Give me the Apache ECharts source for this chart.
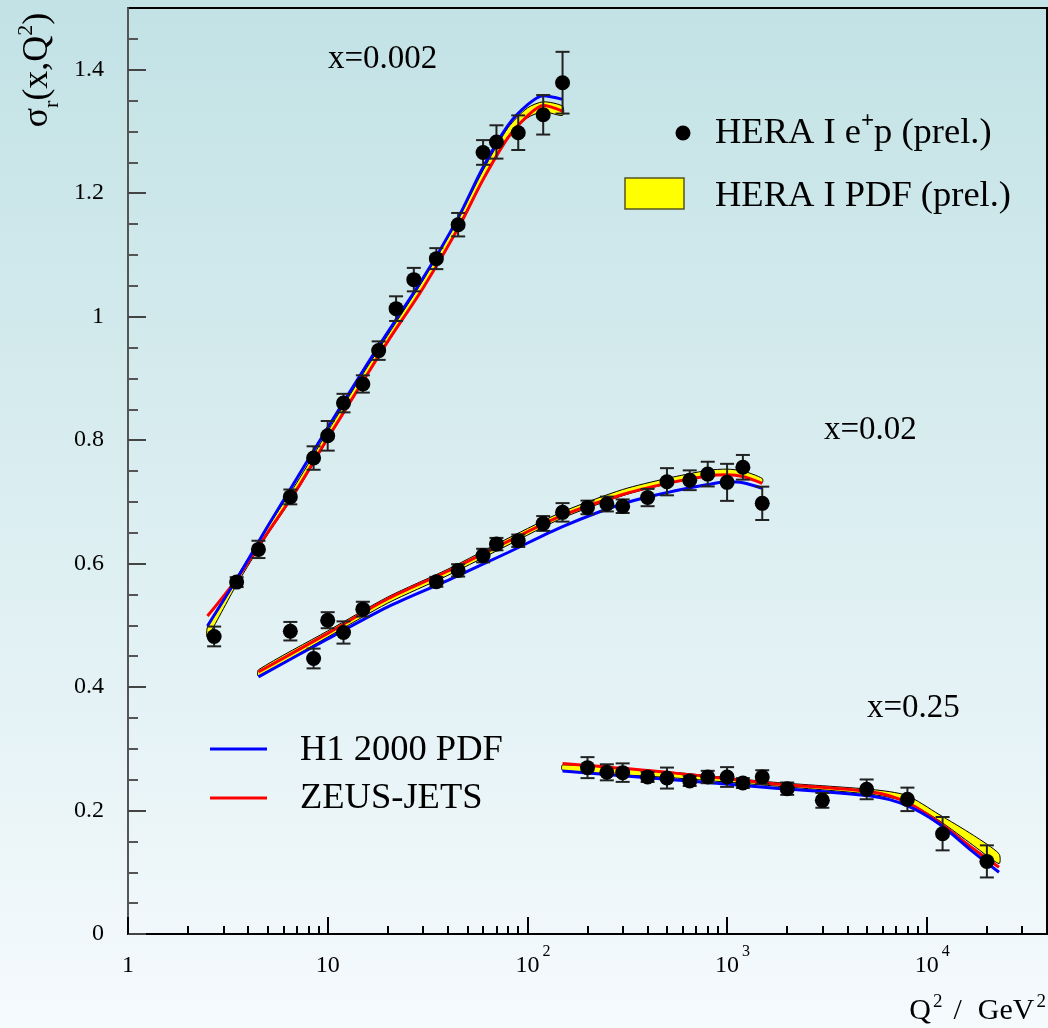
<!DOCTYPE html>
<html><head><meta charset="utf-8">
<script src="https://cdn.jsdelivr.net/npm/echarts@6/dist/echarts.min.js"></script>
<style>html,body{margin:0;padding:0;background:#fff}#c{width:1048px;height:1028px}</style>
</head><body><div id="c"></div>
<script>
const FONT = '"Liberation Serif", "Times New Roman", serif';

// ---- data: x = 0.002 ----
const q2_a  = [2.7, 3.5, 4.5, 6.5, 8.5, 10, 12, 15, 18, 22, 27, 35, 45, 60, 70, 90, 120, 150];
const sig_a = [0.482, 0.570, 0.623, 0.708, 0.771, 0.807, 0.860, 0.891, 0.945, 1.013, 1.060, 1.094, 1.149, 1.266, 1.283, 1.298, 1.327, 1.379];
const err_a = [0.016, 0.008, 0.014, 0.012, 0.019, 0.024, 0.015, 0.014, 0.015, 0.020, 0.019, 0.017, 0.019, 0.020, 0.027, 0.028, 0.032, 0.050];

// ---- data: x = 0.02 ----
const q2_b  = [6.5, 8.5, 10, 12, 15, 35, 45, 60, 70, 90, 120, 150, 200, 250, 300, 400, 500, 650, 800, 1000, 1200, 1500];
const sig_b = [0.4905, 0.4463, 0.5083, 0.4884, 0.5262, 0.5705, 0.589, 0.613, 0.6316, 0.637, 0.665, 0.683, 0.691, 0.6965, 0.693, 0.707, 0.7326, 0.735, 0.745, 0.7316, 0.756, 0.6976];
const err_b = [0.015, 0.016, 0.013, 0.018, 0.012, 0.008, 0.010, 0.011, 0.010, 0.010, 0.012, 0.015, 0.011, 0.012, 0.011, 0.014, 0.022, 0.016, 0.020, 0.030, 0.020, 0.027];

// ---- data: x = 0.25 ----
const q2_c  = [200, 250, 300, 400, 500, 650, 800, 1000, 1200, 1500, 2000, 3000, 5000, 8000, 12000, 20000];
const sig_c = [0.2695, 0.2619, 0.2614, 0.2543, 0.2526, 0.2478, 0.2543, 0.2543, 0.2445, 0.2543, 0.2354, 0.2165, 0.2343, 0.2181, 0.1625, 0.1176];
const err_c = [0.017, 0.013, 0.015, 0.008, 0.017, 0.008, 0.010, 0.016, 0.008, 0.011, 0.010, 0.012, 0.016, 0.019, 0.027, 0.026];

// ---- curves: x = 0.002 ----
const curve_a_q = [2.5, 3.5, 5, 7, 10, 15, 20, 30, 45, 60, 80, 100, 120, 150];
const h1_a_v    = [0.499, 0.575, 0.660, 0.738, 0.820, 0.912, 0.975, 1.062, 1.160, 1.242, 1.310, 1.343, 1.358, 1.352];
const zeus_a_v  = [0.515, 0.575, 0.650, 0.720, 0.803, 0.895, 0.960, 1.046, 1.143, 1.222, 1.290, 1.325, 1.342, 1.333];
const band_a_lo = [0.481, 0.566, 0.647, 0.717, 0.801, 0.895, 0.958, 1.046, 1.146, 1.224, 1.292, 1.322, 1.332, 1.326];
const band_a_hi = [0.497, 0.578, 0.659, 0.731, 0.814, 0.907, 0.970, 1.059, 1.158, 1.237, 1.306, 1.338, 1.348, 1.341];

// ---- curves: x = 0.02 ----
const curve_b_q = [4.5, 10, 20, 40, 80, 150, 300, 500, 800, 1000, 1200, 1500];
const h1_b_v    = [0.4165, 0.478, 0.530, 0.573, 0.618, 0.660, 0.697, 0.715, 0.728, 0.7325, 0.731, 0.722];
const zeus_b_v  = [0.4245, 0.487, 0.543, 0.588, 0.636, 0.678, 0.712, 0.730, 0.742, 0.744, 0.741, 0.730];
const band_b_lo = [0.418, 0.481, 0.536, 0.581, 0.630, 0.674, 0.710, 0.729, 0.742, 0.744, 0.741, 0.731];
const band_b_hi = [0.428, 0.491, 0.546, 0.591, 0.641, 0.684, 0.720, 0.738, 0.751, 0.753, 0.750, 0.738];

// ---- curves: x = 0.25 ----
const curve_c_q = [150, 535, 1690, 5330, 7900, 11500, 17100, 23000];
const h1_c_v    = [0.264, 0.250, 0.2365, 0.223, 0.2084, 0.1787, 0.1327, 0.100];
const zeus_c_v  = [0.276, 0.261, 0.2435, 0.230, 0.2137, 0.181, 0.138, 0.108];
const band_c_lo = [0.265, 0.253, 0.240, 0.226, 0.214, 0.184, 0.1435, 0.114];
const band_c_hi = [0.274, 0.262, 0.246, 0.234, 0.2246, 0.1938, 0.160, 0.130];

// ---- axis ticks ----
const xMajor = [1, 10, 100, 1000, 10000];
const xMinor = [2,3,4,5,6,7,8,9, 20,30,40,50,60,70,80,90, 200,300,400,500,600,700,800,900,
                2000,3000,4000,5000,6000,7000,8000,9000, 20000,30000];
const yMajor = [0, 0.2, 0.4, 0.6, 0.8, 1, 1.2, 1.4];
const yMinor = [0.05,0.1,0.15, 0.25,0.3,0.35, 0.45,0.5,0.55, 0.65,0.7,0.75, 0.85,0.9,0.95,
                1.05,1.1,1.15, 1.25,1.3,1.35, 1.45];
const xLabelText = {1: '{b|1}', 10: '{b|10}', 100: '{bp|10}{s|2}', 1000: '{bp|10}{s|3}', 10000: '{bp|10}{s|4}'};

const pair = (q, v) => q.map((x, i) => [x, v[i]]);

function bandSeries(q, lo, hi) {
  return {
    type: 'custom', coordinateSystem: 'cartesian2d', clip: false, z: 2, silent: true,
    data: q.map((x, i) => [x, lo[i], hi[i]]),
    encode: {x: 0, y: [1, 2]},
    renderItem: function (params, api) {
      if (params.dataIndex !== 0) return null;
      const pts = [];
      for (let i = 0; i < q.length; i++) pts.push(api.coord([q[i], lo[i]]));
      for (let i = q.length - 1; i >= 0; i--) pts.push(api.coord([q[i], hi[i]]));
      return {type: 'polygon', shape: {points: pts, smooth: 0.25},
              style: {fill: '#ffff00', stroke: '#000', lineWidth: 1}};
    }
  };
}
function lineSeries(q, v, color, z) {
  return {type: 'line', data: pair(q, v), smooth: 0.3, symbol: 'none', z: z, silent: true,
          lineStyle: {color: color, width: 3}};
}
function errSeries(q, v, e) {
  return {
    type: 'custom', coordinateSystem: 'cartesian2d', clip: false, z: 5, silent: true,
    data: q.map((x, i) => [x, v[i], e[i]]),
    encode: {x: 0, y: 1},
    renderItem: function (params, api) {
      const x = api.value(0), y = api.value(1), er = api.value(2);
      const lo = api.coord([x, y - er]), hi = api.coord([x, y + er]);
      const st = {stroke: '#222', lineWidth: 2};
      return {type: 'group', children: [
        {type: 'line', shape: {x1: lo[0], y1: lo[1], x2: hi[0], y2: hi[1]}, style: st},
        {type: 'line', shape: {x1: lo[0] - 7, y1: lo[1], x2: lo[0] + 7, y2: lo[1]}, style: st},
        {type: 'line', shape: {x1: hi[0] - 7, y1: hi[1], x2: hi[0] + 7, y2: hi[1]}, style: st}
      ]};
    }
  };
}
function ptSeries(q, v) {
  return {type: 'scatter', data: pair(q, v), symbol: 'circle', symbolSize: 15, z: 6, silent: true,
          itemStyle: {color: '#000', opacity: 1}};
}

const chart = echarts.init(document.getElementById('c'), null, {renderer: 'canvas'});
const txt = (s, x, y, size) => ({
  type: 'text', x: x, y: y, z: 20, silent: true,
  style: {text: s, font: size + 'px ' + FONT, fill: '#000', align: 'left', verticalAlign: 'middle'}
});

chart.setOption({
  animation: false,
  backgroundColor: {type: 'linear', x: 0, y: 0, x2: 0, y2: 1,
    colorStops: [{offset: 0, color: '#c2e2e5'}, {offset: 1, color: '#f5fafd'}]},
  grid: {left: 128, right: 1, top: 8, bottom: 94, show: true, borderColor: '#000', borderWidth: 2,
         backgroundColor: 'transparent', containLabel: false},
  xAxis: [
    {type: 'log', logBase: 10, min: 1, max: 40000, position: 'bottom',
     axisLine: {show: true, lineStyle: {color: '#000', width: 2}},
     axisTick: {show: true, inside: true, length: 17, lineStyle: {color: '#000', width: 2}, customValues: xMajor},
     axisLabel: {show: true, margin: 10, customValues: xMajor,
       formatter: v => xLabelText[Math.round(v)] || '',
       rich: {
         b:  {fontFamily: FONT, fontSize: 24, color: '#000', lineHeight: 44},
         bp: {fontFamily: FONT, fontSize: 24, color: '#000', lineHeight: 44, padding: [0, 0, 0, 11]},
         s:  {fontFamily: FONT, fontSize: 16, color: '#000', verticalAlign: 'top', padding: [0, 0, 0, 3]}
       }},
     splitLine: {show: false}},
    {type: 'log', logBase: 10, min: 1, max: 40000, position: 'bottom', gridIndex: 0,
     axisLine: {show: false},
     axisTick: {show: true, inside: true, length: 8, lineStyle: {color: '#000', width: 2}, customValues: xMinor},
     axisLabel: {show: false}, splitLine: {show: false}}
  ],
  yAxis: [
    {type: 'value', min: 0, max: 1.5, position: 'left',
     axisLine: {show: true, lineStyle: {color: '#555', width: 2}},
     axisTick: {show: true, inside: true, length: 18, lineStyle: {color: '#444', width: 2}, customValues: yMajor},
     axisLabel: {show: true, margin: 24, customValues: yMajor, fontFamily: FONT, fontSize: 24, color: '#000',
                 formatter: v => String(v)},
     splitLine: {show: false}},
    {type: 'value', min: 0, max: 1.5, position: 'left', gridIndex: 0,
     axisLine: {show: false},
     axisTick: {show: true, inside: true, length: 10, lineStyle: {color: '#555', width: 2}, customValues: yMinor},
     axisLabel: {show: false}, splitLine: {show: false}}
  ],
  series: [
    bandSeries(curve_a_q, band_a_lo, band_a_hi),
    bandSeries(curve_b_q, band_b_lo, band_b_hi),
    bandSeries(curve_c_q, band_c_lo, band_c_hi),
    lineSeries(curve_a_q, zeus_a_v, '#ff0000', 3),
    lineSeries(curve_b_q, zeus_b_v, '#ff0000', 3),
    lineSeries(curve_c_q, zeus_c_v, '#ff0000', 3),
    lineSeries(curve_a_q, h1_a_v, '#0000ff', 4),
    lineSeries(curve_b_q, h1_b_v, '#0000ff', 4),
    lineSeries(curve_c_q, h1_c_v, '#0000ff', 4),
    errSeries(q2_a, sig_a, err_a),
    errSeries(q2_b, sig_b, err_b),
    errSeries(q2_c, sig_c, err_c),
    ptSeries(q2_a, sig_a),
    ptSeries(q2_b, sig_b),
    ptSeries(q2_c, sig_c)
  ],
  graphic: [
    // y title
    {type: 'text', x: 38, y: 70, rotation: Math.PI / 2, z: 20, silent: true,
     style: {text: '{t|σ}{r|r}{t|(x,Q}{s|2}{t|)}', align: 'center', verticalAlign: 'middle', fill: '#000',
       rich: {
         t: {fontFamily: FONT, fontSize: 36, lineHeight: 50, color: '#000'},
         r: {fontFamily: FONT, fontSize: 22, verticalAlign: 'bottom', color: '#000'},
         s: {fontFamily: FONT, fontSize: 22, verticalAlign: 'top', color: '#000', padding: [2, 0, 0, 0]}
       }}},
    // x title
    {type: 'text', x: 1046, y: 1011, z: 20, silent: true,
     style: {text: '{t|Q}{s|2}{sl|/}{t|GeV}{s|2}', align: 'right', verticalAlign: 'middle', fill: '#000',
       rich: {
         t:  {fontFamily: FONT, fontSize: 30, lineHeight: 36, color: '#000'},
         sl: {fontFamily: FONT, fontSize: 30, lineHeight: 36, color: '#000', padding: [0, 16, 0, 11]},
         s:  {fontFamily: FONT, fontSize: 19, verticalAlign: 'top', color: '#000', padding: [0, 0, 0, 2]}
       }}},
    // bin labels
    txt('x=0.002', 328, 59, 33),
    txt('x=0.02', 824, 430, 33),
    txt('x=0.25', 867, 708, 33),
    // legend top right
    {type: 'circle', shape: {cx: 683, cy: 133, r: 7.5}, style: {fill: '#000'}, z: 20, silent: true},
    {type: 'text', x: 715, y: 133, z: 20, silent: true,
     style: {text: '{t|HERA I e}{s|+}{t|p (prel.)}', align: 'left', verticalAlign: 'middle', fill: '#000',
       rich: {
         t: {fontFamily: FONT, fontSize: 36.5, lineHeight: 46, color: '#000'},
         s: {fontFamily: FONT, fontSize: 23, fontWeight: 'bold', verticalAlign: 'top', color: '#000'}
       }}},
    {type: 'rect', shape: {x: 625, y: 178, width: 59, height: 31}, style: {fill: '#ffff00', stroke: '#555522', lineWidth: 1.5}, z: 20, silent: true},
    txt('HERA I PDF (prel.)', 715, 196, 36.5),
    // legend bottom left
    {type: 'line', shape: {x1: 210, y1: 749, x2: 267, y2: 749}, style: {stroke: '#0000ff', lineWidth: 3}, z: 20, silent: true},
    {type: 'line', shape: {x1: 210, y1: 798, x2: 267, y2: 798}, style: {stroke: '#ff0000', lineWidth: 3}, z: 20, silent: true},
    txt('H1 2000 PDF', 300, 750, 36.5),
    txt('ZEUS-JETS', 300, 798, 36.5)
  ]
});
</script>
</body></html>
